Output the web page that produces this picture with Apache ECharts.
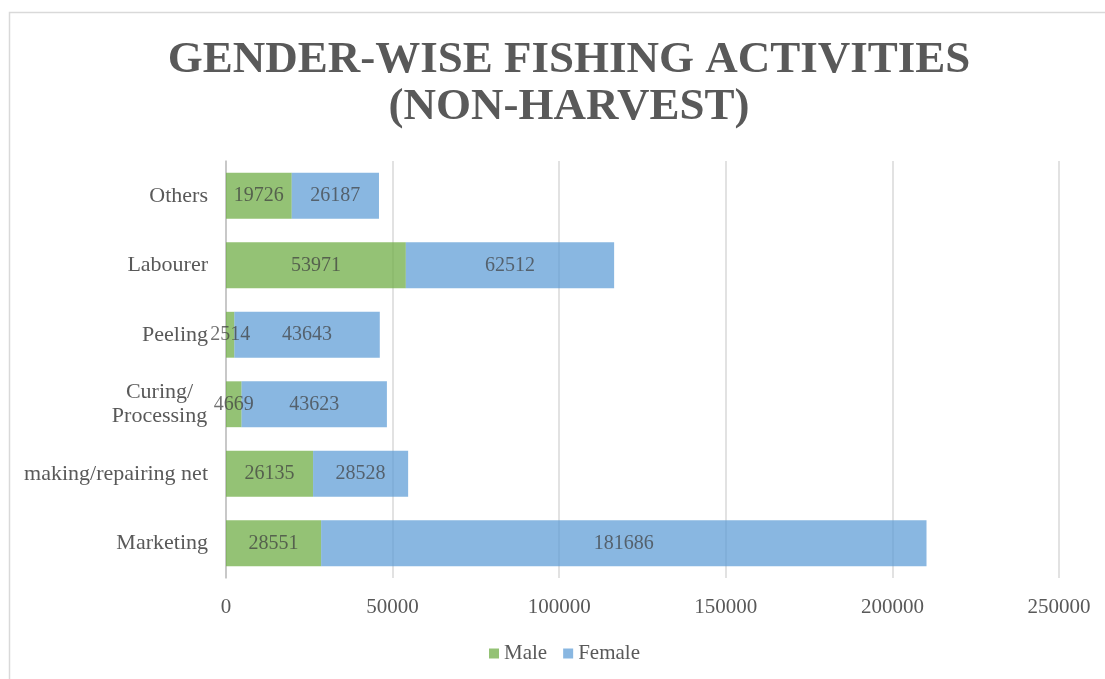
<!DOCTYPE html>
<html>
<head>
<meta charset="utf-8">
<script src="https://cdn.jsdelivr.net/npm/echarts@6/dist/echarts.min.js"></script>
<style>
  html, body { margin: 0; padding: 0; background: #fff; }
  #main { width: 1105px; height: 679px; }
</style>
</head>
<body>
<div id="main"></div>
<script>
// categories, bottom to top
var categories = ["Marketing", "making/repairing net", "Curing/\nProcessing", "Peeling", "Labourer", "Others"];
var maleData = [28551, 26135, 4669, 2514, 53971, 19726];
var femaleData = [181686, 28528, 43623, 43643, 62512, 26187];
var seriesNames = ["Male", "Female"];
var colors = ["#70AD47", "#5B9BD5"];

var chart = echarts.init(document.getElementById("main"));
var font = "'Liberation Serif', 'Times New Roman', serif";

var labelStyle = {
  show: true,
  position: "inside",
  color: "#404040",
  fontFamily: font,
  fontSize: 20
};

chart.setOption({
  backgroundColor: "#ffffff",
  animation: false,
  textStyle: { fontFamily: font },
  title: {
    text: "GENDER-WISE FISHING ACTIVITIES\n(NON-HARVEST)",
    left: 564,
    top: 32,
    textAlign: "center",
    textStyle: {
      fontFamily: font,
      fontSize: 45,
      fontWeight: "bold",
      color: "#595959",
      lineHeight: 47
    }
  },
  legend: {
    bottom: 10,
    left: 484,
    data: seriesNames,
    itemWidth: 10,
    itemHeight: 10,
    itemGap: 16,
    icon: "rect",
    textStyle: { fontFamily: font, fontSize: 21, color: "#595959" }
  },
  grid: {
    left: 226,
    right: 46,
    top: 161,
    bottom: 101,
    containLabel: false
  },
  xAxis: {
    type: "value",
    min: 0,
    max: 250000,
    interval: 50000,
    axisLine: { show: false },
    axisTick: { show: false },
    splitLine: { lineStyle: { color: "#d9d9d9", width: 1.5 } },
    axisLabel: {
      fontFamily: font,
      fontSize: 21,
      color: "#595959",
      margin: 19,
      formatter: function (v) { return String(v); }
    }
  },
  yAxis: {
    type: "category",
    data: categories,
    axisLine: { lineStyle: { color: "#bfbfbf", width: 1.5 } },
    axisTick: { show: false },
    axisLabel: {
      fontFamily: font,
      fontSize: 22,
      color: "#595959",
      margin: 18,
      lineHeight: 24,
      align: "right",
      // two-line label is centred line by line
      formatter: function (v) {
        if (v.indexOf("\n") < 0) return v;
        return v.split("\n").map(function (s) { return "{c|" + s + "}"; }).join("\n");
      },
      rich: {
        c: {
          fontFamily: font,
          fontSize: 22,
          color: "#595959",
          lineHeight: 24,
          width: 97,
          align: "center"
        }
      }
    }
  },
  series: [
    {
      name: seriesNames[0],
      type: "bar",
      stack: "total",
      barCategoryGap: "34%",
      itemStyle: { color: colors[0], opacity: 0.75 },
      label: labelStyle,
      data: maleData
    },
    {
      name: seriesNames[1],
      type: "bar",
      stack: "total",
      barCategoryGap: "34%",
      itemStyle: { color: colors[1], opacity: 0.72 },
      label: labelStyle,
      data: femaleData
    }
  ],
  graphic: [
    {
      type: "rect",
      shape: { x: 9.5, y: 12.5, width: 1100, height: 700 },
      style: { fill: "none", stroke: "#d9d9d9", lineWidth: 1.5 },
      silent: true
    }
  ]
});
</script>
</body>
</html>
